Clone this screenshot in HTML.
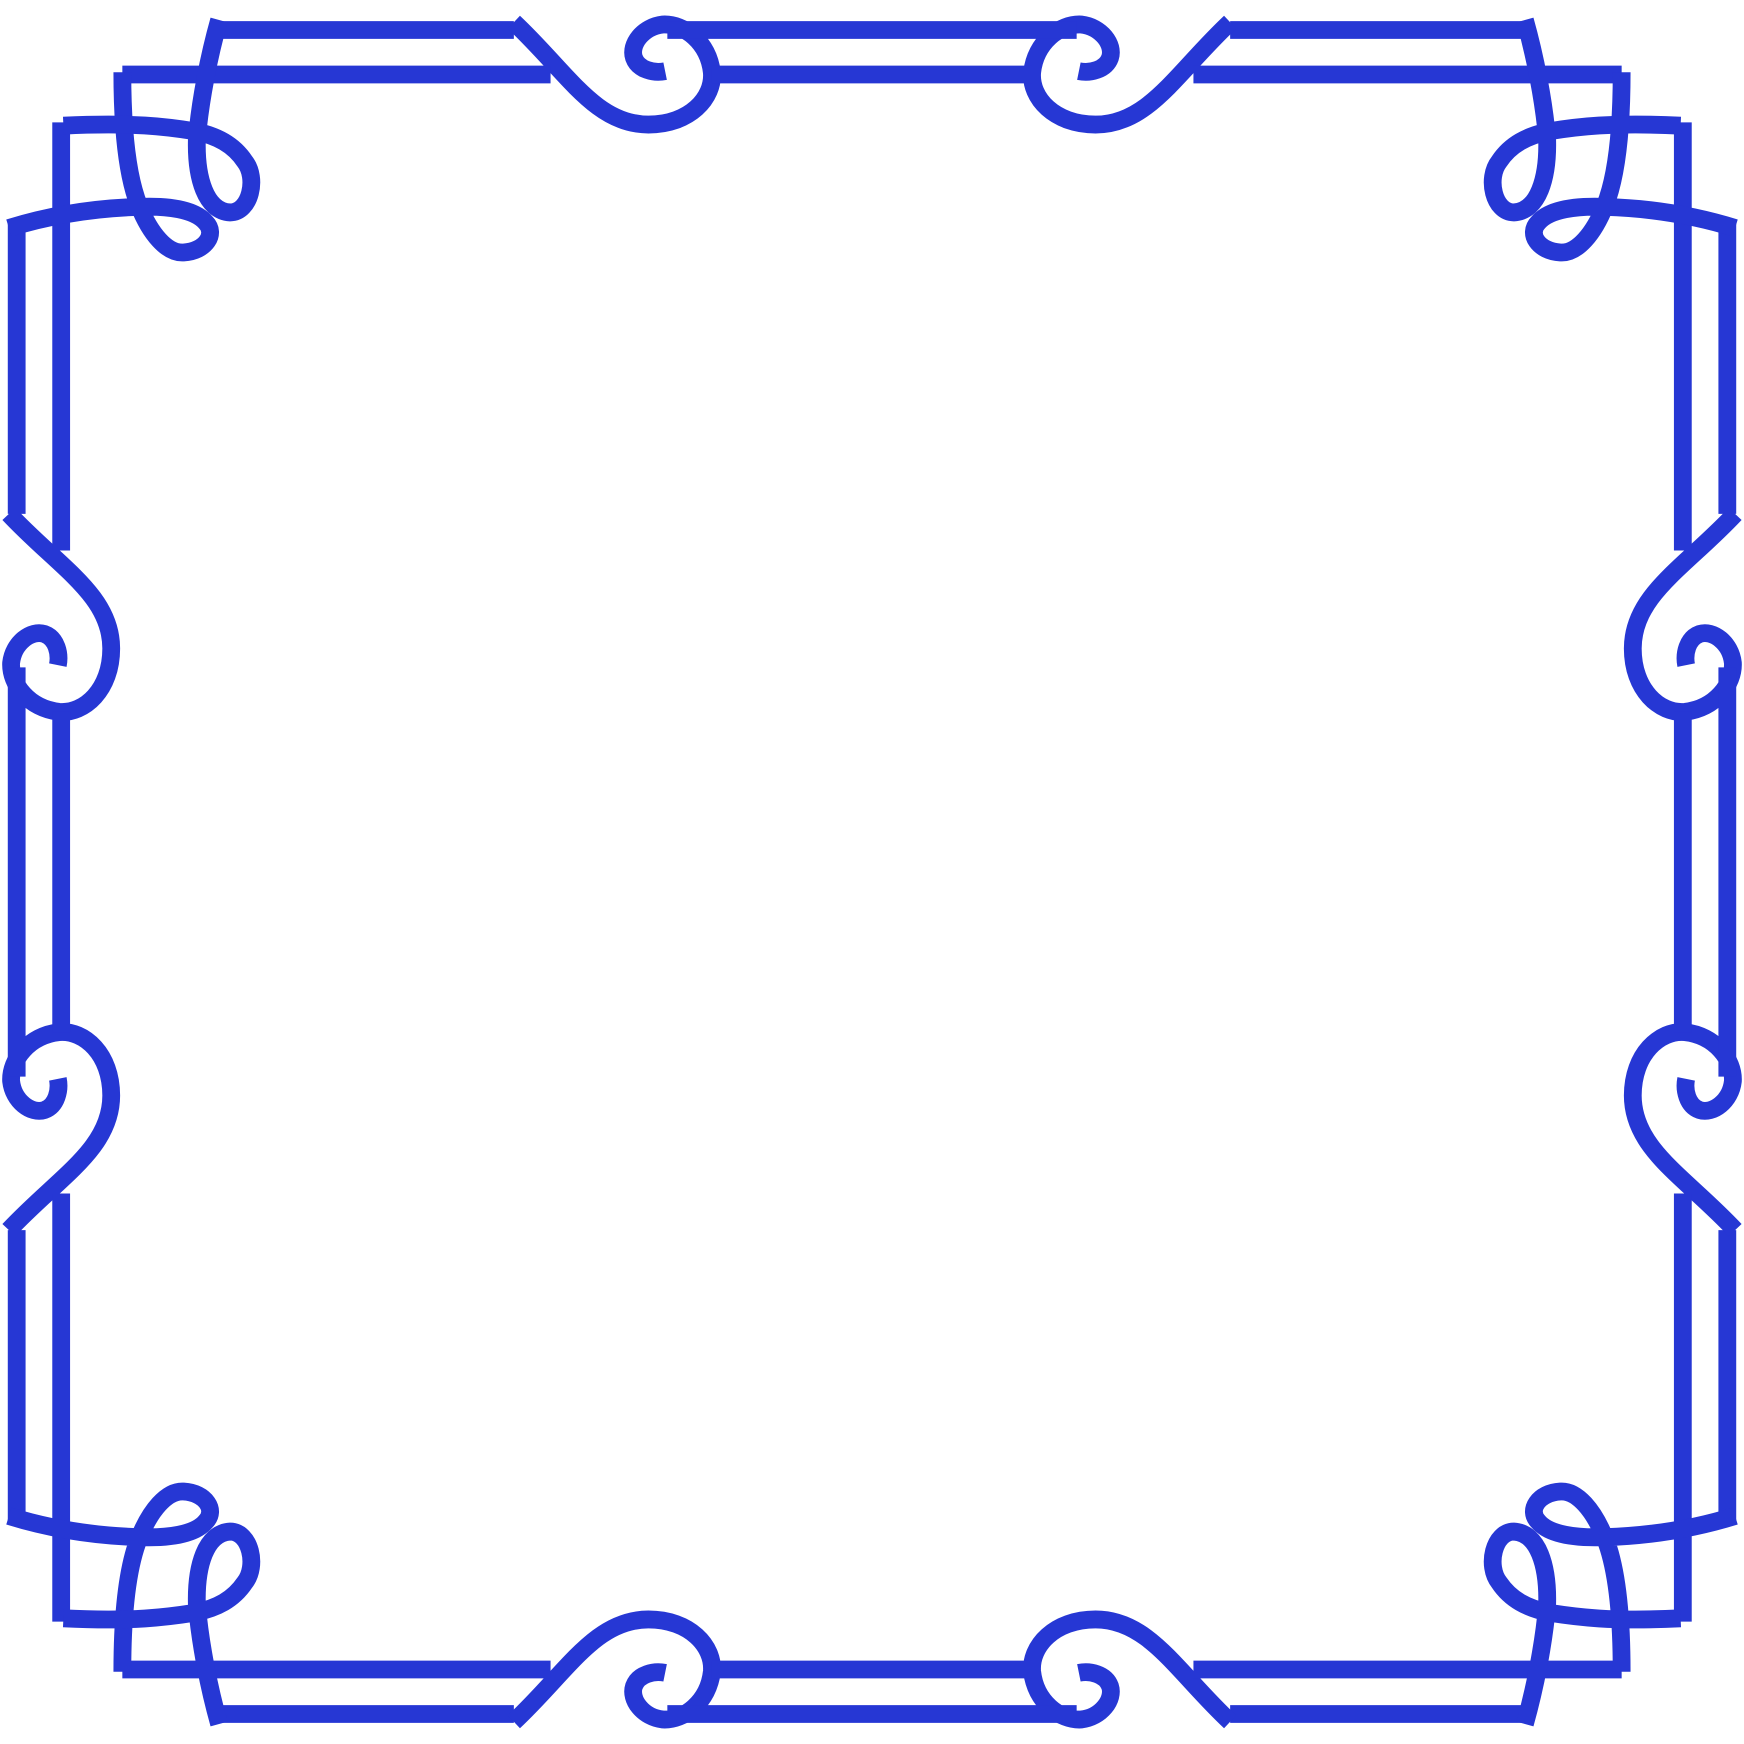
<!DOCTYPE html>
<html><head><meta charset="utf-8"><style>html,body{margin:0;padding:0;background:#fff;width:1744px;height:1744px;overflow:hidden}svg{display:block}</style></head>
<body>
<svg width="1744" height="1744" viewBox="0 0 1568 1568" xmlns="http://www.w3.org/2000/svg">
<defs>
<g id="half-edge" fill="none" stroke="#2637d4" stroke-width="16">
  <path d="M200 27 H462"/>
  <path d="M462 20 C510 65 535 112 583 112 C620 112 642 88 640 65 C637 38 615 21 596 22 C578 24 566 40 570 52 C574 63 588 66 598 64"/>
  <path d="M110 67 H495"/>
  <path d="M600 27 H784"/>
  <path d="M640 67 H784"/>
</g>
<g id="corner" fill="none" stroke="#2637d4" stroke-width="16">
  <path d="M110 65 C110 120 115 160 125 185 C135 210 150 228 165 227 C185 226 195 210 185 200 C175 188 150 185 125 186 C90 187 50 192 8 205"/>
  <path d="M197 18 C188 50 180 90 177 125 C176 160 185 190 207 191 C225 191 232 160 220 145 C210 130 195 122 175 118 C150 114 120 110 57 113"/>
</g>
<g id="quadrant">
  <use href="#half-edge"/>
  <use href="#half-edge" transform="matrix(0,1,1,0,-12,0)"/>
  <use href="#corner"/>
</g>
</defs>
<g><use href="#quadrant"/></g>
<g><use href="#quadrant" transform="translate(1568,0) scale(-1,1)"/></g>
<g><use href="#quadrant" transform="translate(0,1568) scale(1,-1)"/></g>
<g><use href="#quadrant" transform="translate(1568,1568) scale(-1,-1)"/></g>
</svg>
</body></html>
